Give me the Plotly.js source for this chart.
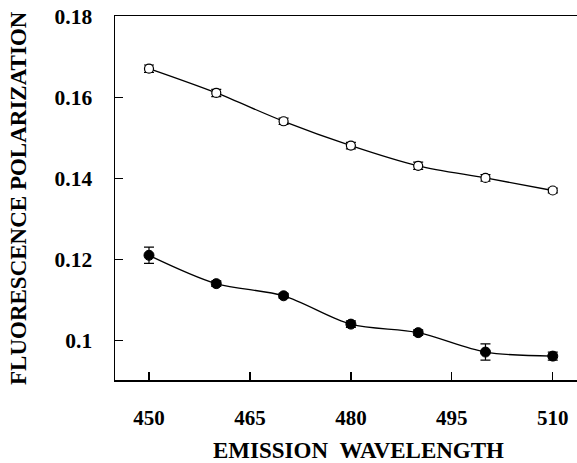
<!DOCTYPE html>
<html>
<head>
<meta charset="utf-8">
<script src="https://cdn.plot.ly/plotly-3.0.1.min.js"></script>
<style>html,body{margin:0;padding:0;background:#fff;}#chart{width:577px;height:463px;}</style>
</head>
<body>
<div id="chart"></div>
<script>
const wavelengths = [450, 460, 470, 480, 490, 500, 510];
const openValues = [0.1672, 0.1612, 0.1542, 0.1482, 0.1432, 0.1402, 0.1371];
const openErrors = [0.0009, 0.0009, 0.0008, 0.0008, 0.0009, 0.0008, 0.0006];
const filledValues = [0.1211, 0.1141, 0.1111, 0.1041, 0.1020, 0.0972, 0.0962];
const filledErrors = [0.0020, 0.0007, 0.0006, 0.0008, 0.0007, 0.0020, 0.0010];
const xTickVals = [450, 465, 480, 495, 510];
const xTickText = ['450', '465', '480', '495', '510'];
const yTickVals = [0.1, 0.12, 0.14, 0.16, 0.18];
const yTickText = ['0.1', '0.12', '0.14', '0.16', '0.18'];
const xTitle = 'EMISSION\u00a0\u00a0WAVELENGTH';
const yTitle = 'FLUORESCENCE POLARIZATION';

const FONT = 'Liberation Serif, Times New Roman, serif';

const traces = [
  {
    x: wavelengths, y: openValues, type: 'scatter', mode: 'lines+markers',
    line: {shape: 'spline', smoothing: 0.9, color: '#000', width: 1.3},
    marker: {symbol: 'circle', size: 9, color: '#fff', line: {color: '#000', width: 1.2}},
    error_y: {type: 'data', array: openErrors, visible: true, color: '#000', thickness: 1.2, width: 5},
    hoverinfo: 'none'
  },
  {
    x: wavelengths, y: filledValues, type: 'scatter', mode: 'lines+markers',
    line: {shape: 'spline', smoothing: 0.9, color: '#000', width: 1.3},
    marker: {symbol: 'circle', size: 10, color: '#000', line: {color: '#000', width: 1}},
    error_y: {type: 'data', array: filledErrors, visible: true, color: '#000', thickness: 1.2, width: 5},
    hoverinfo: 'none'
  }
];

const layout = {
  width: 577, height: 463,
  margin: {l: 115, r: 0, t: 16, b: 83, pad: 0},
  paper_bgcolor: '#fff', plot_bgcolor: '#fff',
  showlegend: false,
  font: {family: FONT, color: '#000', size: 21},
  xaxis: {
    range: [444.95, 513.6], showgrid: false, zeroline: false,
    showline: true, linecolor: '#000', linewidth: 1.5, mirror: true,
    ticks: 'inside', ticklen: 8, tickwidth: 1.3, tickcolor: '#000',
    tickmode: 'array', tickvals: xTickVals, ticktext: xTickText.map(t => '<b>' + t + '</b>'),
    tickfont: {family: FONT, size: 21, color: '#000'},
    ticklabelstandoff: 18
  },
  yaxis: {
    range: [0.0903, 0.1802], showgrid: false, zeroline: false,
    showline: true, linecolor: '#000', linewidth: 1.5,
    ticks: 'inside', ticklen: 8, tickwidth: 1.3, tickcolor: '#000',
    tickmode: 'array', tickvals: yTickVals, ticktext: yTickText.map(t => '<b>' + t + '</b>'),
    tickfont: {family: FONT, size: 21.5, color: '#000'},
    ticklabelstandoff: 17
  },
  annotations: [
    {text: '<b>' + xTitle + '</b>', xref: 'paper', yref: 'paper', x: (358.5 - 115) / 462, y: -(450 - 380) / 364,
     xanchor: 'center', yanchor: 'middle', showarrow: false,
     font: {family: FONT, size: 23, color: '#000'}},
    {text: '<b>' + yTitle + '</b>', xref: 'paper', yref: 'paper', x: (18 - 115) / 462, y: 0.5, textangle: -90,
     xanchor: 'center', yanchor: 'middle', showarrow: false,
     font: {family: FONT, size: 23, color: '#000'}}
  ]
};

Plotly.newPlot('chart', traces, layout, {staticPlot: true, displayModeBar: false});
</script>
</body>
</html>
